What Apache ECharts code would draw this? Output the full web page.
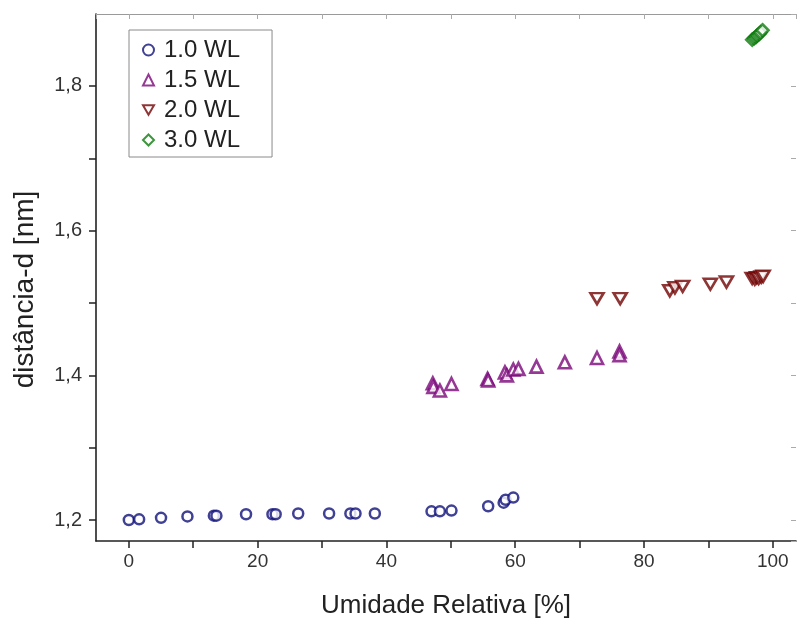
<!DOCTYPE html>
<html>
<head>
<meta charset="utf-8">
<script src="https://cdn.jsdelivr.net/npm/echarts@6/dist/echarts.min.js"></script>
<style>html,body{margin:0;padding:0;background:#fff}#c{width:799px;height:620px}</style>
</head>
<body>
<div id="c"></div>
<script>
var seriesNames = ['1.0 WL', '1.5 WL', '2.0 WL', '3.0 WL'];
var wl10 = [[0.0,1.200],[1.6,1.201],[5.0,1.203],[9.1,1.205],[13.2,1.206],[13.6,1.206],[18.2,1.208],[22.3,1.208],[22.8,1.208],[26.3,1.209],[31.1,1.209],[34.4,1.209],[35.2,1.209],[38.2,1.209],[47.0,1.212],[48.3,1.212],[50.1,1.213],[55.8,1.219],[58.2,1.224],[58.5,1.228],[59.7,1.231]];
var wl15 = [[47.2,1.389],[47.3,1.384],[48.3,1.379],[50.1,1.388],[55.7,1.395],[55.8,1.393],[58.4,1.404],[58.7,1.400],[59.7,1.408],[60.5,1.409],[63.3,1.412],[67.7,1.418],[72.7,1.424],[76.2,1.433],[76.2,1.428]];
var wl20 = [[72.7,1.506],[76.3,1.506],[84.0,1.517],[84.8,1.521],[86.0,1.523],[90.3,1.526],[92.8,1.529],[96.8,1.534],[97.2,1.533],[97.5,1.535],[97.8,1.534],[98.2,1.536],[98.5,1.537]];
var wl30 = [[96.8,1.864],[97.1,1.866],[97.4,1.868],[97.6,1.870],[97.9,1.872],[98.1,1.874],[98.4,1.877]];
var xTickLabels = [0, 20, 40, 60, 80, 100];
var yTickLabels = [1.2, 1.4, 1.6, 1.8];

var colors = ['#10107a', '#7a087a', '#720404', '#0c7c0c'];
var font = 'Liberation Sans, Arial, sans-serif';

function near(v, arr){ for (var i=0;i<arr.length;i++){ if (Math.abs(v-arr[i])<1e-6) return true; } return false; }

var chart = echarts.init(document.getElementById('c'), null, {renderer:'canvas'});
var downTri = 'path://M0,0 L10,0 L5,8.66 Z';
chart.setOption({
  animation: false,
  backgroundColor: '#fff',
  grid: {left: 96, right: 3, top: 14, bottom: 79, containLabel: false, outerBoundsMode: 'none'},
  legend: {
    orient: 'vertical', left: 129, top: 30,
    padding: [8, 32, 5, 13],
    borderColor: '#8a8a8a', borderWidth: 1,
    itemWidth: 11, itemHeight: 11, itemGap: 6,
    textStyle: {fontFamily: font, fontSize: 24, color: '#222', padding: [0, 0, 0, 5]},
    data: seriesNames
  },
  xAxis: [{
    type: 'value', min: -5.1, max: 103.6, minInterval: 10, maxInterval: 10,
    axisLine: {onZero: false, lineStyle: {color: '#222', width: 1.6}},
    axisTick: {show: true, length: 7, inside: false, lineStyle: {color: '#222', width: 1.5}},
    axisLabel: {showMinLabel: false, showMaxLabel: false, margin: 11, fontFamily: font, fontSize: 19, color: '#333',
      formatter: function(v){ return near(v, xTickLabels) ? String(Math.round(v)) : ''; }},
    splitLine: {show: false},
    name: 'Umidade Relativa [%]', nameLocation: 'middle', nameGap: 52,
    nameTextStyle: {fontFamily: font, fontSize: 26, color: '#222'}
  }, {
    type: 'value', position: 'top', min: -5.1, max: 103.6, minInterval: 10, maxInterval: 10,
    axisLine: {onZero: false, lineStyle: {color: '#9a9a9a', width: 1.2}},
    axisTick: {show: true, inside: true, length: 5, lineStyle: {color: '#aaa', width: 1}},
    axisLabel: {show: false}, splitLine: {show: false}
  }],
  yAxis: [{
    type: 'value', min: 1.171, max: 1.8995, minInterval: 0.1, maxInterval: 0.1,
    axisLine: {onZero: false, lineStyle: {color: '#222', width: 1.6}},
    axisTick: {show: true, length: 7, inside: false, lineStyle: {color: '#222', width: 1.5}},
    axisLabel: {showMinLabel: false, showMaxLabel: false, margin: 14, fontFamily: font, fontSize: 20, color: '#333',
      formatter: function(v){ return near(v, yTickLabels) ? v.toFixed(1).replace('.', ',') : ''; }},
    splitLine: {show: false},
    name: 'distância-d [nm]', nameLocation: 'middle', nameGap: 57,
    nameTextStyle: {fontFamily: font, fontSize: 28, color: '#222', padding: [0, 24, 0, 0]}
  }, {
    type: 'value', position: 'right', min: 1.171, max: 1.8995, minInterval: 0.1, maxInterval: 0.1,
    axisLine: {show: false, onZero: false},
    axisTick: {show: true, inside: true, length: 5, lineStyle: {color: '#aaa', width: 1}},
    axisLabel: {show: false}, splitLine: {show: false}
  }],
  series: [
    {name: seriesNames[0], type: 'scatter', data: wl10, symbol: 'circle', symbolSize: 10,
      itemStyle: {color: '#fff', borderColor: colors[0], borderWidth: 2.5}},
    {name: seriesNames[1], type: 'scatter', data: wl15, symbol: 'triangle', symbolSize: 12,
      itemStyle: {color: '#fff', borderColor: colors[1], borderWidth: 2.6}},
    {name: seriesNames[2], type: 'scatter', data: wl20, symbol: downTri, symbolSize: [13, 11],
      itemStyle: {color: '#fff', borderColor: colors[2], borderWidth: 2.6}},
    {name: seriesNames[3], type: 'scatter', data: wl30, symbol: 'diamond', symbolSize: 12,
      itemStyle: {color: '#fff', borderColor: colors[3], borderWidth: 2.6}}
  ]
});
</script>
</body>
</html>
